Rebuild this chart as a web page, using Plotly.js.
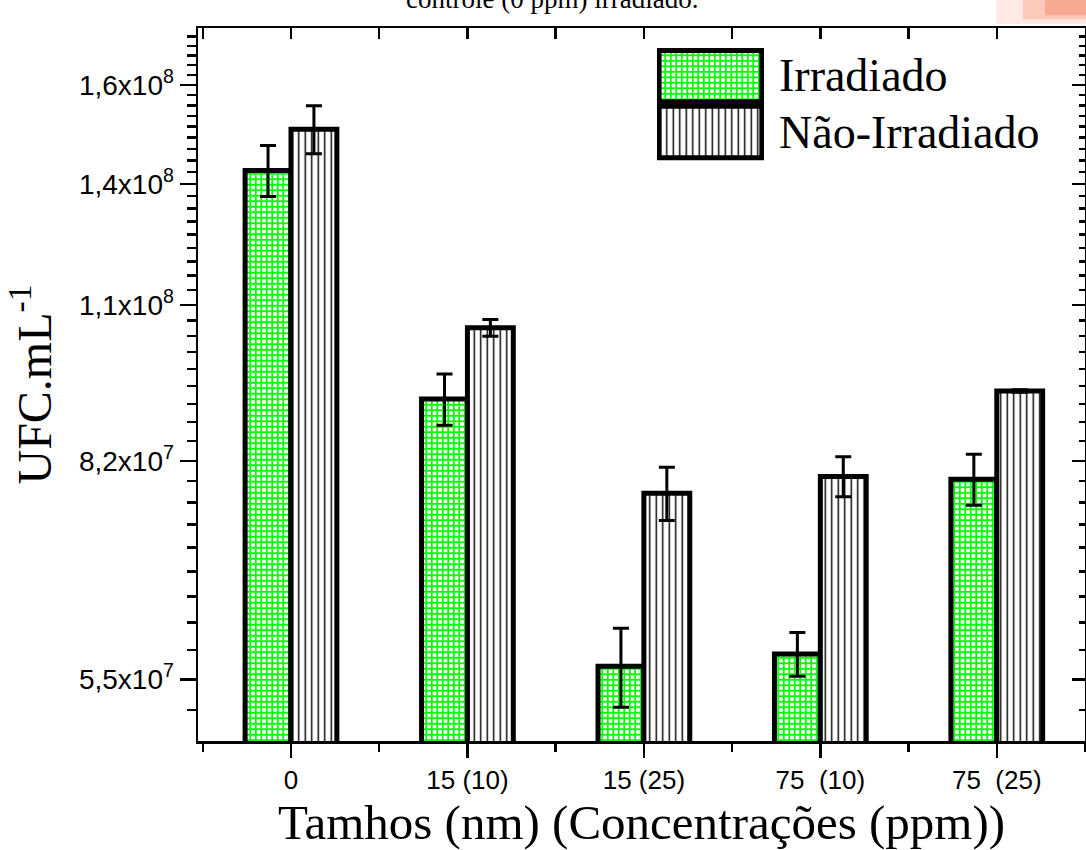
<!DOCTYPE html>
<html>
<head>
<meta charset="utf-8">
<script src="https://cdn.plot.ly/plotly-3.0.1.min.js"></script>
<style>
  html, body { margin: 0; padding: 0; background: #ffffff; }
  #chart { width: 1086px; height: 850px; }
</style>
</head>
<body>
<div id="chart"></div>
<script>
// ---- data ----
const categories = ['0', '15 (10)', '15 (25)', '75\u00a0\u00a0(10)', '75\u00a0\u00a0(25)'];
const seriesNames = ['Irradiado', 'Não-Irradiado'];
const irradiado = [1.394e8, 9.18e7, 5.632e7, 5.76e7, 7.929e7];
const irradiadoErr = [6.5e6, 4.3e6, 4.05e6, 2.3e6, 3.7e6];
const naoIrradiado = [1.503e8, 1.0457e8, 7.727e7, 7.969e7, 9.315e7];
const naoIrradiadoErr = [6.6e6, 1.6e6, 3.75e6, 2.9e6, 2e5];
const yTickVals = [5.5e7, 8.2e7, 1.09e8, 1.36e8, 1.63e8];
const yTickText = ['5,5x10<sup>7</sup>', '8,2x10<sup>7</sup>', '1,1x10<sup>8</sup>', '1,4x10<sup>8</sup>', '1,6x10<sup>8</sup>'];
const yMinorStep = 3e6;
const titleText = 'controle (0 ppm) irradiado.';
const xTitle = 'Tamhos (nm) (Concentrações (ppm))';
const yTitle = 'UFC.mL<sup>-1</sup>';

// ---- derived ----
const xPos = categories.map((c, i) => i);
const yMinorVals = [];
for (let k = -3; k <= 45; k++) yMinorVals.push(yTickVals[0] + k * yMinorStep);
const xMinorVals = [];
for (let i = -1; i < categories.length; i++) xMinorVals.push(i + 0.5);
const xTopVals = xPos.concat(xMinorVals).sort((a, b) => a - b);

const yRange = [7.69139, 8.2573];
const xRange = [-0.527, 4.5];

const serif = 'Liberation Serif, Times New Roman, serif';
const sans = 'Liberation Sans, Arial, sans-serif';

const irrMarker = {
  color: '#ffffff',
  line: { color: '#000000', width: 5 },
  pattern: { shape: '+', fgcolor: '#00ff00', bgcolor: '#ffffff', size: 5.5, solidity: 0.55 }
};
const naoMarker = {
  color: '#ffffff',
  line: { color: '#000000', width: 5 },
  pattern: { shape: '|', fgcolor: '#000000', bgcolor: '#ffffff', size: 6.5, solidity: 0.22 }
};

const traces = [
  {
    type: 'bar', name: seriesNames[0], x: xPos, y: irradiado,
    marker: irrMarker, showlegend: false, hoverinfo: 'skip',
    error_y: { type: 'data', array: irradiadoErr, visible: true, color: '#000000', thickness: 3, width: 8 }
  },
  {
    type: 'bar', name: seriesNames[1], x: xPos, y: naoIrradiado,
    marker: naoMarker, showlegend: false, hoverinfo: 'skip',
    error_y: { type: 'data', array: naoIrradiadoErr, visible: true, color: '#000000', thickness: 3, width: 8 }
  },
  // empty trace so the mirrored top/right axes are drawn
  { type: 'scatter', x: [], y: [], xaxis: 'x2', yaxis: 'y2', showlegend: false, hoverinfo: 'skip' },
  // legend swatches (large patterned boxes like the reference legend)
  {
    type: 'bar', orientation: 'h', x: [1], y: [1], base: 0, width: 0.92,
    xaxis: 'x3', yaxis: 'y3', marker: irrMarker, showlegend: false, hoverinfo: 'skip'
  },
  {
    type: 'bar', orientation: 'h', x: [1], y: [0], base: 0, width: 0.92,
    xaxis: 'x3', yaxis: 'y3', marker: naoMarker, showlegend: false, hoverinfo: 'skip'
  }
];

const layout = {
  width: 1086, height: 850,
  margin: { l: 198, r: 1, t: 28, b: 109, pad: 0 },
  paper_bgcolor: '#ffffff', plot_bgcolor: '#ffffff',
  barmode: 'group', bargap: 0.48, bargroupgap: 0,
  hovermode: false,
  showlegend: false,
  xaxis: {
    type: 'linear', range: xRange, tickmode: 'array', tickvals: xPos, ticktext: categories,
    ticks: 'outside', ticklen: 14, tickwidth: 2.5, tickcolor: '#000',
    minor: { tickmode: 'array', tickvals: xMinorVals, ticks: 'outside', ticklen: 8, tickwidth: 2.5, tickcolor: '#000' },
    showline: true, linecolor: '#000', linewidth: 2.5, showgrid: false, zeroline: false,
    tickfont: { family: sans, size: 26, color: '#000' },
    title: { text: xTitle, font: { family: serif, size: 49, color: '#000' }, standoff: 7 },
    fixedrange: true
  },
  yaxis: {
    type: 'log', range: yRange, tickmode: 'array', tickvals: yTickVals, ticktext: yTickText,
    ticks: 'outside', ticklen: 16, tickwidth: 2.5, tickcolor: '#000',
    minor: { tickmode: 'array', tickvals: yMinorVals, ticks: 'outside', ticklen: 9, tickwidth: 2.5, tickcolor: '#000' },
    showline: true, linecolor: '#000', linewidth: 2.5, showgrid: false, zeroline: false,
    tickfont: { family: sans, size: 28, color: '#000' },
    title: { text: yTitle, font: { family: serif, size: 48, color: '#000' }, standoff: 12 },
    fixedrange: true
  },
  xaxis2: {
    overlaying: 'x', side: 'top', anchor: 'y2', type: 'linear', range: xRange,
    tickmode: 'array', tickvals: xTopVals, showticklabels: false,
    ticks: 'inside', ticklen: 11, tickwidth: 2.5, tickcolor: '#000',
    showline: true, linecolor: '#000', linewidth: 2.5, showgrid: false, zeroline: false, fixedrange: true
  },
  yaxis2: {
    overlaying: 'y', side: 'right', anchor: 'x2', type: 'log', range: yRange,
    tickmode: 'array', tickvals: yTickVals, showticklabels: false,
    ticks: 'inside', ticklen: 13, tickwidth: 2.5, tickcolor: '#000',
    minor: { tickmode: 'array', tickvals: yMinorVals, ticks: 'inside', ticklen: 6, tickwidth: 2.5, tickcolor: '#000' },
    showline: true, linecolor: '#000', linewidth: 2.5, showgrid: false, zeroline: false, fixedrange: true
  },
  xaxis3: {
    domain: [0.5175, 0.638], anchor: 'y3', range: [-0.02, 1.02], visible: false, fixedrange: true
  },
  yaxis3: {
    domain: [0.8135, 0.9733], anchor: 'x3', range: [-0.52, 1.52], visible: false, fixedrange: true
  },
  annotations: [
    {
      text: seriesNames[0], xref: 'paper', yref: 'paper', x: 0.6528, y: 0.934,
      xanchor: 'left', yanchor: 'middle', showarrow: false,
      font: { family: serif, size: 46, color: '#000' }
    },
    {
      text: seriesNames[1], xref: 'paper', yref: 'paper', x: 0.6528, y: 0.853,
      xanchor: 'left', yanchor: 'middle', showarrow: false,
      font: { family: serif, size: 46, color: '#000' }
    },
    {
      text: titleText, xref: 'paper', yref: 'paper', x: 0.3995, y: 1.0407,
      xanchor: 'center', yanchor: 'middle', showarrow: false,
      font: { family: serif, size: 27, color: '#000' }
    }
  ],
  shapes: [
    {
      type: 'rect', xref: 'paper', yref: 'paper', x0: 0.9, x1: 1.01, y0: 1.006, y1: 1.045,
      fillcolor: 'rgba(250,170,140,0.25)', line: { width: 0 }, layer: 'below'
    },
    {
      type: 'rect', xref: 'paper', yref: 'paper', x0: 0.93, x1: 1.01, y0: 1.012, y1: 1.045,
      fillcolor: 'rgba(245,130,95,0.3)', line: { width: 0 }, layer: 'below'
    },
    {
      type: 'rect', xref: 'paper', yref: 'paper', x0: 0.955, x1: 1.01, y0: 1.018, y1: 1.045,
      fillcolor: 'rgba(240,110,70,0.35)', line: { width: 0 }, layer: 'below'
    }
  ]
};

Plotly.newPlot('chart', traces, layout, { displayModeBar: false, staticPlot: true });
</script>
</body>
</html>
